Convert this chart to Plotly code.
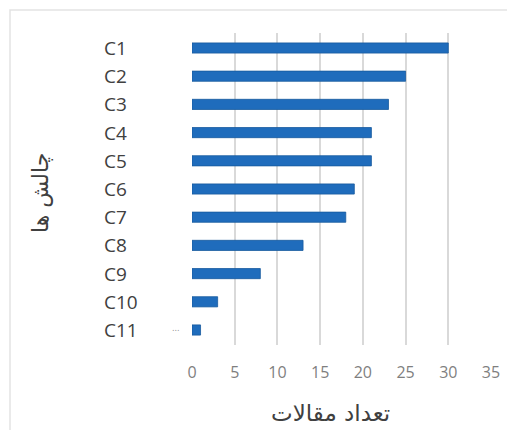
import plotly.graph_objects as go

categories = ["C1", "C2", "C3", "C4", "C5", "C6", "C7", "C8", "C9", "C10", "C11"]
values = [30, 25, 23, 21, 21, 19, 18, 13, 8, 3, 1]
x_ticks = [0, 5, 10, 15, 20, 25, 30, 35]
x_title = "تعداد مقالات"
y_title = "چالش ها"

OFF = 8  # page body margin
W, H = 507, 422
L, R, T, B = 184, 24, 25, 85
pw, ph = W - L - R, H - T - B

def px_x(p):
    return (p - OFF - L) / pw

def px_y(p):
    return (H - B - (p - OFF)) / ph

fig = go.Figure(go.Bar(
    x=values, y=categories, orientation="h",
    marker=dict(color="#1f6cbc", line=dict(color="#185a9e", width=0.8)),
    width=0.36,
))

annotations = []
for c in categories:
    annotations.append(dict(
        x=px_x(102), xref="paper", y=c, yref="y", text=c, showarrow=False,
        xanchor="left", yanchor="middle",
        font=dict(family="Open Sans, DejaVu Sans", size=19, color="#404040"),
    ))
annotations.append(dict(
    x=px_x(176), xref="paper", y=categories[-1], yref="y", text="...", showarrow=False,
    xanchor="center", yanchor="middle", yshift=2,
    font=dict(family="DejaVu Sans", size=8, color="#909090"),
))
annotations.append(dict(
    x=px_x(330), xref="paper", y=px_y(413), yref="paper", text=x_title, showarrow=False,
    xanchor="center", yanchor="middle",
    font=dict(family="DejaVu Sans", size=23, color="#404040"),
))
annotations.append(dict(
    x=px_x(41), xref="paper", y=px_y(193), yref="paper", text=y_title, showarrow=False,
    xanchor="center", yanchor="middle", textangle=-90,
    font=dict(family="DejaVu Sans", size=22, color="#404040"),
))

fig.update_layout(
    width=W, height=H,
    margin=dict(l=L, r=R, t=T, b=B),
    paper_bgcolor="white", plot_bgcolor="white",
    showlegend=False,
    annotations=annotations,
    shapes=[dict(
        type="rect", xref="paper", yref="paper",
        x0=px_x(10), x1=px_x(512), y0=px_y(445), y1=px_y(10),
        line=dict(color="#e3e3e3", width=1.5), layer="below",
    )],
    xaxis=dict(
        range=[0, 35], tickvals=x_ticks, showgrid=True, gridcolor="#d9d9d9", gridwidth=1.5,
        zeroline=False, showline=False, ticks="",
        tickfont=dict(family="Open Sans, DejaVu Sans", size=16, color="#7f7f7f"),
        ticklabelstandoff=16,
    ),
    yaxis=dict(
        categoryorder="array", categoryarray=categories, autorange="reversed",
        showticklabels=False, showgrid=False, zeroline=False, showline=False, ticks="",
    ),
)

fig.write_html("out.html")
